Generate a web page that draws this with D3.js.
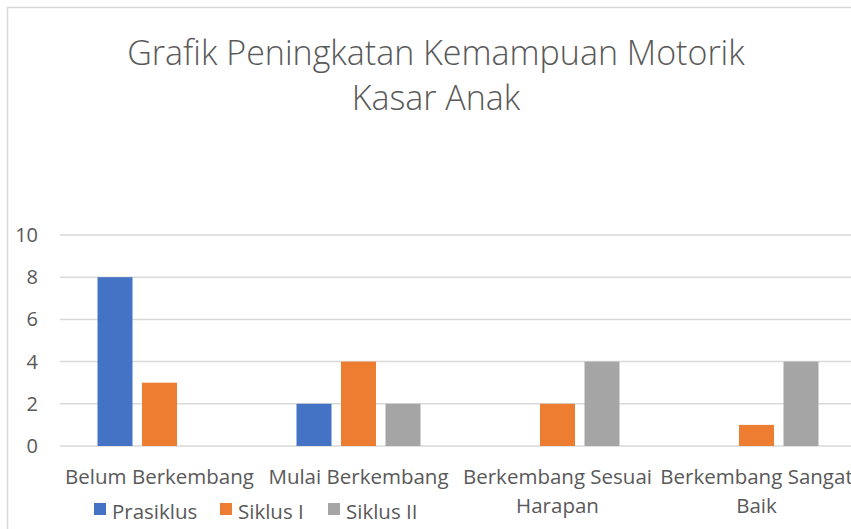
<!DOCTYPE html>
<html><head><meta charset="utf-8">
<script src="https://cdn.jsdelivr.net/npm/d3@7"></script>
<style>html,body{margin:0;padding:0;background:#fff;overflow:hidden}</style>
</head><body>
<svg id="chart" width="851" height="529"></svg>
<script>
const categories = ["Belum Berkembang", "Mulai Berkembang", "Berkembang Sesuai Harapan", "Berkembang Sangat Baik"];
const seriesNames = ["Prasiklus", "Siklus I", "Siklus II"];
const prasiklus = [8, 2, 0, 0];
const siklusI = [3, 4, 2, 1];
const siklusII = [0, 2, 4, 4];
const yTicks = [0, 2, 4, 6, 8, 10];
const colors = ["#4472C4", "#ED7D31", "#A5A5A5"];
const titleLines = ["Grafik Peningkatan Kemampuan Motorik", "Kasar Anak"];

const seriesValues = [prasiklus, siklusI, siklusII];
const FONT = "'Open Sans', sans-serif";
const TXT = "#595959";
const svg = d3.select("#chart");

// chart border
svg.append("rect").attr("x", 7.5).attr("y", 7.5).attr("width", 900).attr("height", 600)
  .attr("fill", "#fff").attr("stroke", "#d9d9d9").attr("stroke-width", 1.5);

// title
svg.append("g").selectAll("text").data(titleLines).join("text")
  .attr("x", 436).attr("y", (d, i) => 65 + i * 45)
  .attr("text-anchor", "middle").attr("font-family", FONT).attr("font-weight", 300)
  .attr("font-size", 34).attr("fill", TXT).text(d => d);

const x0 = d3.scaleBand().domain(categories).range([60, 856]).padding(0);
const groupW = 124;
const x1 = d3.scaleBand().domain(seriesNames).range([0, groupW]).paddingInner(9.5 / 44.5).paddingOuter(0);
const y = d3.scaleLinear().domain([0, 10]).range([446, 235]);

// gridlines
svg.append("g").selectAll("line").data(yTicks).join("line")
  .attr("x1", 60).attr("x2", 851).attr("y1", d => y(d)).attr("y2", d => y(d))
  .attr("stroke", "#d9d9d9").attr("stroke-width", 1.5);

// y axis labels
const yAxis = svg.append("g").attr("transform", "translate(60,0)")
  .call(d3.axisLeft(y).tickValues(yTicks).tickSize(0).tickPadding(22));
yAxis.select(".domain").remove();
yAxis.selectAll("text").attr("font-family", FONT).attr("font-size", 20).attr("fill", TXT);

// bars
const groups = svg.append("g").selectAll("g").data(categories).join("g")
  .attr("transform", d => `translate(${x0(d) + (x0.bandwidth() - groupW) / 2},0)`);
groups.selectAll("rect").data((c, ci) => seriesNames.map((s, si) => ({s, si, v: seriesValues[si][ci]})))
  .join("rect")
  .attr("x", d => x1(d.s)).attr("width", x1.bandwidth())
  .attr("y", d => y(d.v)).attr("height", d => y(0) - y(d.v))
  .attr("fill", d => colors[d.si]);

// category labels with wrapping
const catG = svg.append("g");
categories.forEach(c => {
  const t = catG.append("text").attr("text-anchor", "middle").attr("font-family", FONT)
    .attr("font-size", 20.5).attr("fill", TXT);
  const words = c.split(" ");
  let lines = [], cur = [];
  const maxW = x0.bandwidth() + 2;
  words.forEach(w => {
    const test = cur.concat([w]).join(" ");
    t.text(test);
    if (t.node().getComputedTextLength() > maxW && cur.length) { lines.push(cur.join(" ")); cur = [w]; }
    else cur.push(w);
  });
  lines.push(cur.join(" "));
  t.text(null);
  lines.forEach((l, i) => t.append("tspan").attr("x", x0(c) + x0.bandwidth() / 2)
    .attr("y", 484 + i * 29).text(l));
});

// legend
const legendX = [94, 220, 328];
const lg = svg.append("g").selectAll("g").data(seriesNames).join("g")
  .attr("transform", (d, i) => `translate(${legendX[i]},503)`);
lg.append("rect").attr("width", 12).attr("height", 12).attr("fill", (d, i) => colors[i]);
lg.append("text").attr("x", 18).attr("y", 15.5).attr("font-family", FONT).attr("font-size", 20.5)
  .attr("fill", TXT).text(d => d);
</script>
</body></html>
